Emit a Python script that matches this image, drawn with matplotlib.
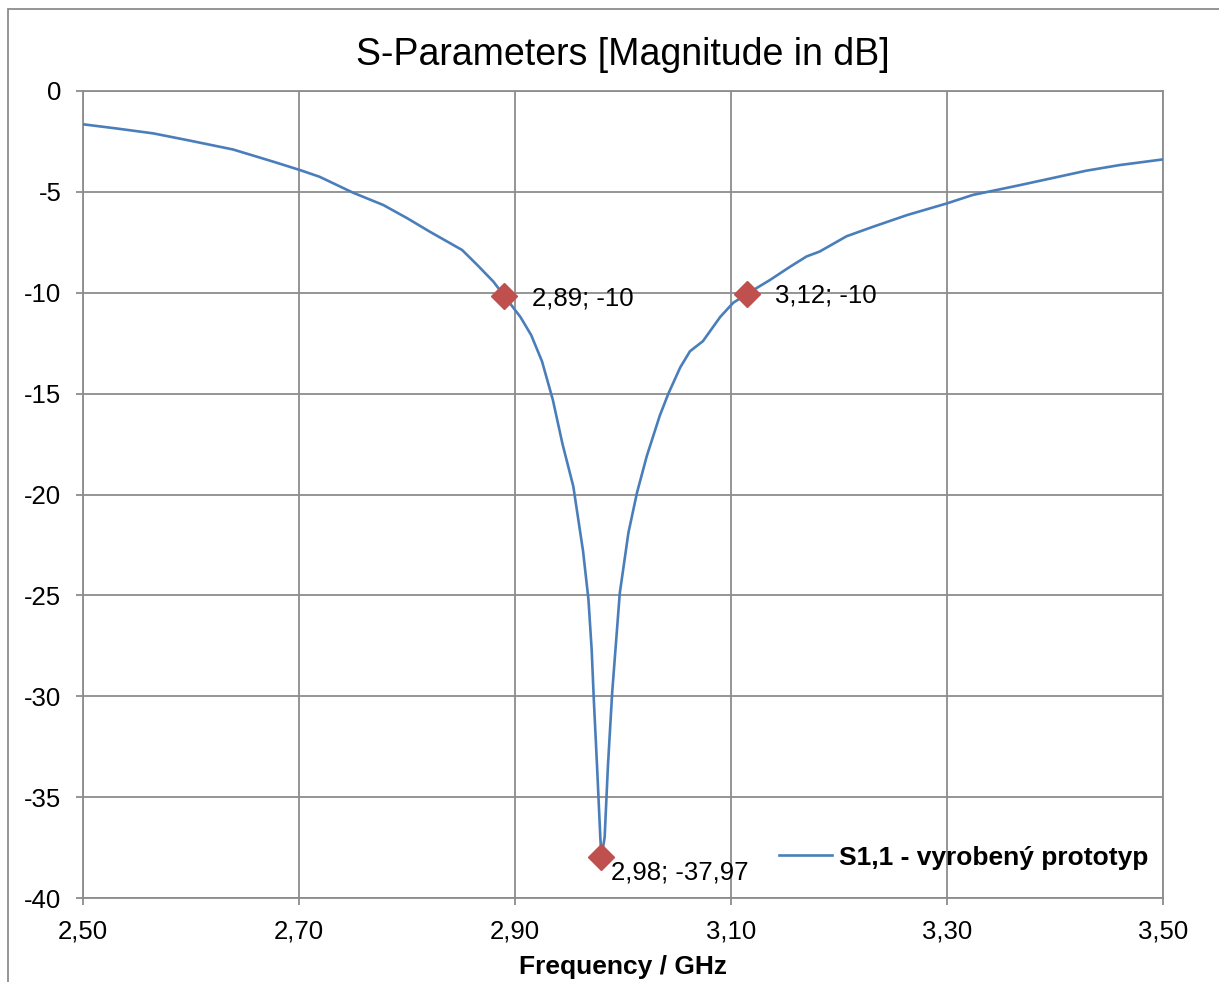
import matplotlib
matplotlib.use('Agg')
import matplotlib.pyplot as plt
from matplotlib.patches import Rectangle

plt.rcParams['font.family'] = ['Liberation Sans', 'DejaVu Sans']
plt.rcParams['axes.unicode_minus'] = False

# measured S11 of the prototype
freq = [2.500, 2.530, 2.565, 2.599, 2.639, 2.676, 2.701, 2.719, 2.750, 2.778,
        2.800, 2.821, 2.851, 2.865, 2.880, 2.890, 2.905, 2.915, 2.925, 2.935,
        2.944, 2.954, 2.963, 2.968, 2.971, 2.973, 2.976, 2.979, 2.980, 2.983,
        2.986, 2.990, 2.993, 2.997, 3.005, 3.013, 3.022, 3.034, 3.042, 3.053,
        3.062, 3.074, 3.090, 3.102, 3.115, 3.136, 3.155, 3.170, 3.182, 3.207,
        3.232, 3.263, 3.300, 3.324, 3.343, 3.368, 3.399, 3.429, 3.460, 3.500]
s11 = [-1.65, -1.85, -2.10, -2.46, -2.90, -3.50, -3.92, -4.25, -5.04, -5.65,
       -6.30, -6.97, -7.88, -8.62, -9.45, -10.15, -11.20, -12.10, -13.40, -15.30,
       -17.50, -19.60, -22.80, -25.20, -27.70, -30.20, -33.50, -37.00, -37.97, -37.00,
       -33.50, -29.80, -27.70, -24.90, -21.90, -19.90, -18.10, -16.10, -15.00, -13.70,
       -12.90, -12.40, -11.20, -10.50, -10.05, -9.37, -8.70, -8.20, -7.96, -7.20,
       -6.72, -6.15, -5.57, -5.15, -4.94, -4.66, -4.30, -3.95, -3.67, -3.39]

marker_f = [2.89, 2.98, 3.115]
marker_db = [-10.15, -37.97, -10.05]
marker_labels = ['2,89; -10', '2,98; -37,97', '3,12; -10']

xticks = [2.50, 2.70, 2.90, 3.10, 3.30, 3.50]
xtick_labels = ['2,50', '2,70', '2,90', '3,10', '3,30', '3,50']
yticks = [0, -5, -10, -15, -20, -25, -30, -35, -40]

grid_col = '#8c8c8c'

fig = plt.figure(figsize=(12.19, 9.82), dpi=100)
ax = fig.add_axes([83 / 1219, 1 - 898 / 982, 1080 / 1219, 807 / 982])

ax.plot(freq, s11, color='#4a7ebb', lw=1.9, label='S1,1 - vyrobený prototyp', zorder=3)
ax.plot(marker_f, marker_db, linestyle='none', marker='D', markersize=13,
        color='#c0504d', zorder=4)

offsets = [(20, -2), (7, -11), (20, -1)]
for f, v, lab, off in zip(marker_f, marker_db, marker_labels, offsets):
    ax.annotate(lab, (f, v), xytext=off, textcoords='offset points',
                fontsize=18.5, ha='left', va='center', zorder=5)

ax.set_xlim(2.5, 3.5)
ax.set_ylim(-40, 0)
ax.set_xticks(xticks)
ax.set_xticklabels(xtick_labels)
ax.set_yticks(yticks)
ax.set_yticklabels([str(v) for v in yticks])
ax.tick_params(labelsize=18.5, length=5, width=1.3, color=grid_col, pad=10.5)
ax.grid(True, color=grid_col, lw=1.3)
for s in ax.spines.values():
    s.set_color(grid_col)
    s.set_linewidth(1.3)

ax.set_xlabel('Frequency / GHz', fontsize=19, fontweight='bold', labelpad=8)
fig.text(623 / 1219, 1 - 55 / 982, 'S-Parameters [Magnitude in dB]',
         fontsize=27, ha='center', va='center')

ax.legend(loc='center right', bbox_to_anchor=(0.986, 0.05), frameon=False,
          prop={'weight': 'bold', 'size': 19}, handlelength=2.0,
          handletextpad=0.25, borderpad=0, borderaxespad=0)

# outer chart border (cut off at right and bottom)
fig.patches.append(Rectangle((8 / 1219, -0.1), 2, (982 - 9) / 982 + 0.1,
                             transform=fig.transFigure, fill=False,
                             edgecolor=grid_col, lw=1.3))

fig.savefig('out.png', dpi=100)
